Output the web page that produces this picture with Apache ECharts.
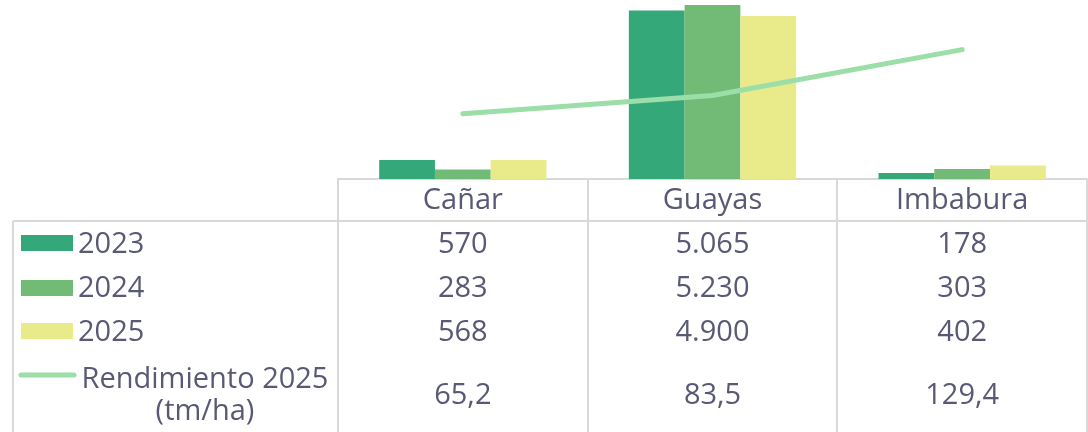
<!DOCTYPE html>
<html>
<head>
<meta charset="utf-8">
<script src="https://cdn.jsdelivr.net/npm/echarts@6/dist/echarts.min.js"></script>
<style>
  html, body { margin: 0; padding: 0; background: #fff; }
  #chart { width: 1088px; height: 432px; }
</style>
</head>
<body>
<div id="chart"></div>
<script>
var provinces = ['Cañar', 'Guayas', 'Imbabura'];
var area2023 = [570, 5065, 178];
var area2024 = [283, 5230, 303];
var area2025 = [568, 4900, 402];
var yield2025 = [65.2, 83.5, 129.4];

var seriesNames = ['2023', '2024', '2025', 'Rendimiento 2025\n(tm/ha)'];
var colors = ['#34A878', '#72BB77', '#E9EB8A', '#9BDEA8'];

var textColor = '#595975';
var lineColor = '#d9d9d9';
var font = '"Open Sans"';
var fontSize = 29;

// es-EC number format: thousands '.', decimals ','
function fmtInt(v) {
  return String(v).replace(/\B(?=(\d{3})+(?!\d))/g, '.');
}
function fmtDec(v) {
  return v.toFixed(1).replace('.', ',');
}

var chart = echarts.init(document.getElementById('chart'));

var gridLeft = 338, gridRight = 1, baseY = 179;

chart.setOption({
  animation: false,
  grid: { left: gridLeft, right: gridRight, top: 0, height: baseY },
  xAxis: {
    type: 'category',
    data: provinces,
    axisLine: { show: true, lineStyle: { color: lineColor, width: 2 } },
    axisTick: { show: false },
    axisLabel: {
      color: textColor, fontFamily: 'Open Sans', fontSize: fontSize, margin: 7
    }
  },
  yAxis: [
    { type: 'value', min: 0, max: 5380, show: false, splitLine: { show: false } },
    { type: 'value', min: 0, max: 179, show: false, splitLine: { show: false } }
  ],
  series: [
    { name: seriesNames[0], type: 'bar', data: area2023, itemStyle: { color: colors[0] },
      barGap: '0%', barCategoryGap: '33%' },
    { name: seriesNames[1], type: 'bar', data: area2024, itemStyle: { color: colors[1] } },
    { name: seriesNames[2], type: 'bar', data: area2025, itemStyle: { color: colors[2] } },
    { name: seriesNames[3], type: 'line', yAxisIndex: 1, data: yield2025, z: 5,
      symbol: 'none', lineStyle: { color: colors[3], width: 5, cap: 'round' } }
  ]
});

// data table below the plot
var rows = [area2023.map(fmtInt), area2024.map(fmtInt), area2025.map(fmtInt), yield2025.map(fmtDec)];
var rowY = [245, 289, 333, 396];
var elements = [];

var band = chart.convertToPixel({ xAxisIndex: 0 }, provinces[1]) - chart.convertToPixel({ xAxisIndex: 0 }, provinces[0]);
var firstX = chart.convertToPixel({ xAxisIndex: 0 }, provinces[0]);

// vertical borders
for (var i = 0; i <= provinces.length; i++) {
  var x = Math.round(firstX - band / 2 + i * band);
  if (i === provinces.length) x = 1087;
  elements.push({ type: 'line', shape: { x1: x, y1: baseY, x2: x, y2: 432 },
    style: { stroke: lineColor, lineWidth: 2 } });
}
elements.push({ type: 'line', shape: { x1: 13, y1: 221, x2: 13, y2: 432 },
  style: { stroke: lineColor, lineWidth: 2 } });
elements.push({ type: 'line', shape: { x1: 13, y1: 221, x2: 1087, y2: 221 },
  style: { stroke: lineColor, lineWidth: 2 } });

// values
rows.forEach(function (row, r) {
  row.forEach(function (val, c) {
    var cx = chart.convertToPixel({ xAxisIndex: 0 }, provinces[c]);
    elements.push({ type: 'text', x: cx, y: rowY[r],
      style: { text: val, fill: textColor, font: fontSize + 'px ' + font,
        align: 'center', verticalAlign: 'middle' } });
  });
});

// row headers with legend keys
[243, 288, 331].forEach(function (y, r) {
  elements.push({ type: 'rect', shape: { x: 21, y: y - 8, width: 52, height: 16 },
    style: { fill: colors[r] } });
  elements.push({ type: 'text', x: 78, y: rowY[r],
    style: { text: seriesNames[r], fill: textColor, font: fontSize + 'px ' + font,
      align: 'left', verticalAlign: 'middle' } });
});
elements.push({ type: 'line', shape: { x1: 21, y1: 375, x2: 74, y2: 375 },
  style: { stroke: colors[3], lineWidth: 5, lineCap: 'round' } });
elements.push({ type: 'text', x: 205, y: 396,
  style: { text: seriesNames[3], fill: textColor, font: fontSize + 'px ' + font,
    align: 'center', verticalAlign: 'middle', lineHeight: 32 } });

chart.setOption({ graphic: { elements: elements } });
</script>
</body>
</html>
